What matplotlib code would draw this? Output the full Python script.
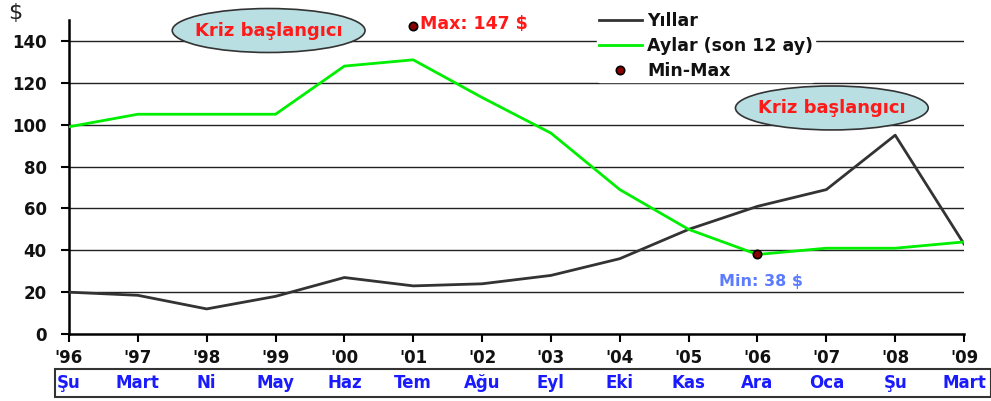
import matplotlib.pyplot as plt
from matplotlib.patches import Ellipse, Rectangle
from matplotlib.transforms import blended_transform_factory

plt.rcParams['font.family'] = ['DejaVu Sans']

years = ["'96", "'97", "'98", "'99", "'00", "'01", "'02",
         "'03", "'04", "'05", "'06", "'07", "'08", "'09"]
months = ["Şu", "Mart", "Ni", "May", "Haz", "Tem", "Ağu",
          "Eyl", "Eki", "Kas", "Ara", "Oca", "Şu", "Mart"]
yillar = [20, 18.5, 12, 18, 27, 23, 24, 28, 36, 50, 61, 69, 95, 43]
aylar = [99, 105, 105, 105, 128, 131, 113, 96, 69, 50, 38, 41, 41, 44]
minmax_x = [5, 10]
minmax_y = [147, 38]

x = list(range(len(years)))

fig = plt.figure(figsize=(9.91, 4.01), dpi=100)
ax = fig.add_axes([0.0696, 0.167, 0.9032, 0.783])

for g in range(20, 141, 20):
    ax.axhline(g, color='#222222', lw=1.0, zorder=1)

ax.plot(x, yillar, color='#333333', lw=2.0, label='Yıllar', zorder=3)
ax.plot(x, aylar, color='#00ee00', lw=2.0, label='Aylar (son 12 ay)', zorder=3)
ax.plot(minmax_x, minmax_y, ls='none', marker='o', ms=6, mfc='#8b0000',
        mec='black', mew=1.2, label='Min-Max', zorder=4, clip_on=False)

ax.set_xlim(0, len(years) - 1)
ax.set_ylim(0, 150)
ax.set_yticks(range(0, 141, 20))
ax.set_xticks(x)
ax.set_xticklabels(years, fontsize=12, fontweight='bold', color='#111111')
ax.tick_params(axis='y', labelsize=12, direction='out', length=6, width=1.5, pad=10)
ax.tick_params(axis='x', direction='out', length=6, width=1.5, pad=5)
for lab in ax.get_yticklabels():
    lab.set_fontweight('bold')
    lab.set_color('#111111')
for s in ['top', 'right']:
    ax.spines[s].set_visible(False)
ax.spines['left'].set_linewidth(1.8)
ax.spines['bottom'].set_linewidth(1.8)

fig.text(0.008, 0.968, '$', fontsize=16, color='#222222', va='center')

# month row in a box
fig.patches.append(Rectangle((0.056, 0.01), 0.944, 0.07, transform=fig.transFigure,
                             fill=False, ec='#333333', lw=1.5))
tr = blended_transform_factory(ax.transData, fig.transFigure)
for i, m in enumerate(months):
    ax.text(i, 0.045, m, transform=tr, ha='center', va='center', fontsize=12,
            fontweight='bold', color='#1a1aff', clip_on=False)

# annotations
ax.text(5.1, 148, 'Max: 147 $', color='#ff1a1a', fontsize=12.5, fontweight='bold',
        va='center', ha='left', clip_on=False)
ax.text(10.05, 25, 'Min: 38 $', color='#5c7cff', fontsize=11.5, fontweight='bold',
        va='center', ha='center')

for cx, cy in [(2.9, 145), (11.08, 108)]:
    ax.add_patch(Ellipse((cx, cy), 2.8, 21, fc='#b9dfe3', ec='#333333', lw=1.2,
                         zorder=5, clip_on=False))
    ax.text(cx, cy, 'Kriz başlangıcı', color='#ff1a1a', fontsize=13, fontweight='bold',
            ha='center', va='center', zorder=6, clip_on=False)

leg = ax.legend(loc='upper left', bbox_to_anchor=(0.58, 1.06), frameon=True,
                fontsize=12.5, handlelength=2.5, handletextpad=0.3, labelspacing=0.42,
                borderpad=0.1)
leg.get_frame().set_edgecolor('white')
leg.get_frame().set_facecolor('white')
leg.get_frame().set_alpha(1)
for t in leg.get_texts():
    t.set_fontweight('bold')
    t.set_color('#111111')

fig.savefig('out.png', dpi=100)
